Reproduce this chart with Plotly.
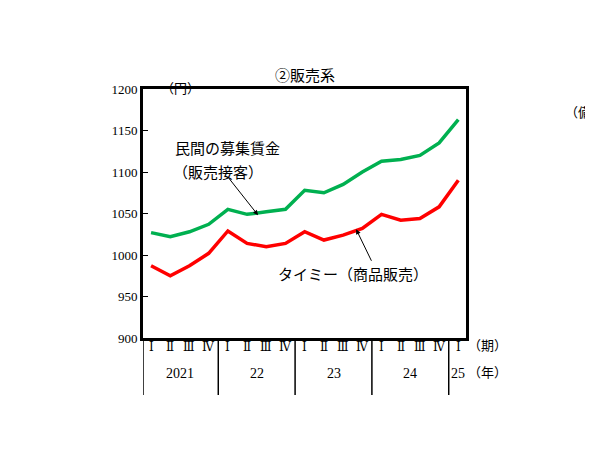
import plotly.graph_objects as go

quarters = ["Ⅰ","Ⅱ","Ⅲ","Ⅳ"]*4 + ["Ⅰ"]
years = ["2021","22","23","24","25"]
year_centers = [1.5, 5.5, 9.5, 13.5, 16]
green = [1027,1022,1028,1037,1055,1049,1052,1055,1078,1075,1085,1100,1113,1115,1120,1135,1163]
red = [987,975,987,1002,1029,1014,1010,1014,1028,1018,1024,1032,1049,1042,1044,1058,1090]
x = list(range(len(green)))

serif = "Liberation Serif, DejaVu Serif, Noto Sans CJK JP"
jp = "Noto Sans CJK JP"

fig = go.Figure()
fig.add_trace(go.Scatter(x=x, y=green, mode="lines", line=dict(color="#00b050", width=3.5)))
fig.add_trace(go.Scatter(x=x, y=red, mode="lines", line=dict(color="#ff0000", width=3.5)))

ann = []
for i, q in enumerate(quarters):
    ann.append(dict(x=i, y=-0.072, xref="x", yref="paper", text=q, showarrow=False,
                    font=dict(family=serif, size=12, color="black")))
for c, yv in zip(year_centers, years):
    ann.append(dict(x=c, y=-0.181, xref="x", yref="paper", text=yv, showarrow=False,
                    font=dict(family=serif, size=14, color="black")))
ann += [
    dict(x=1.0, y=-0.072, xref="paper", yref="paper", text="（期）", showarrow=False, xanchor="left",
         font=dict(family=jp, size=13, color="black")),
    dict(x=1.0, y=-0.181, xref="paper", yref="paper", text="（年）", showarrow=False, xanchor="left",
         font=dict(family=jp, size=13, color="black")),
    dict(x=0.5, y=1.108, xref="paper", yref="paper", text="②販売系", showarrow=False,
         font=dict(family=jp, size=15, color="black")),
    dict(x=0.05, y=1.052, xref="paper", yref="paper", text="（円）", showarrow=False,
         font=dict(family=jp, size=13, color="black")),
    dict(x=1.30, y=0.956, xref="paper", yref="paper", text="（備考", showarrow=False, xanchor="left",
         font=dict(family=jp, size=13, color="black")),
    dict(x=4.0, y=1130, xref="x", yref="y", text="民間の募集賃金", showarrow=False,
         font=dict(family=jp, size=15, color="black")),
    dict(x=3.5, y=1101, xref="x", yref="y", text="（販売接客）", showarrow=False,
         font=dict(family=jp, size=15, color="black")),
    dict(x=10.5, y=978, xref="x", yref="y", text="タイミー（商品販売）", showarrow=False,
         font=dict(family=jp, size=15, color="black")),
    dict(x=5.57, y=1048, xref="x", yref="y", text="", showarrow=True, ax=-30, ay=-38,
         arrowhead=2, arrowwidth=1, arrowcolor="black"),
    dict(x=10.68, y=1031, xref="x", yref="y", text="", showarrow=True, ax=16, ay=33,
         arrowhead=2, arrowwidth=1, arrowcolor="black"),
]

shapes = []
for xs in [-0.42, 3.5, 7.5, 11.5, 15.5]:
    shapes.append(dict(type="line", xref="x", yref="paper", x0=xs, x1=xs, y0=0, y1=-0.229,
                       line=dict(color="black", width=1.5)))

fig.update_layout(
    width=593, height=465, margin=dict(l=135, r=135, t=81, b=135),
    plot_bgcolor="white", paper_bgcolor="white", showlegend=False,
    annotations=ann, shapes=shapes,
    xaxis=dict(range=[-0.42, 16.4], showticklabels=False, ticks="", showgrid=False, zeroline=False,
               showline=True, linecolor="black", linewidth=3, mirror=True),
    yaxis=dict(range=[900, 1200], dtick=50, ticks="inside", ticklen=5, tickcolor="black",
               showgrid=False, zeroline=False, showline=True, linecolor="black", linewidth=3, mirror=True,
               tickfont=dict(family=serif, size=13, color="black")),
)
fig.write_html("out.html")
